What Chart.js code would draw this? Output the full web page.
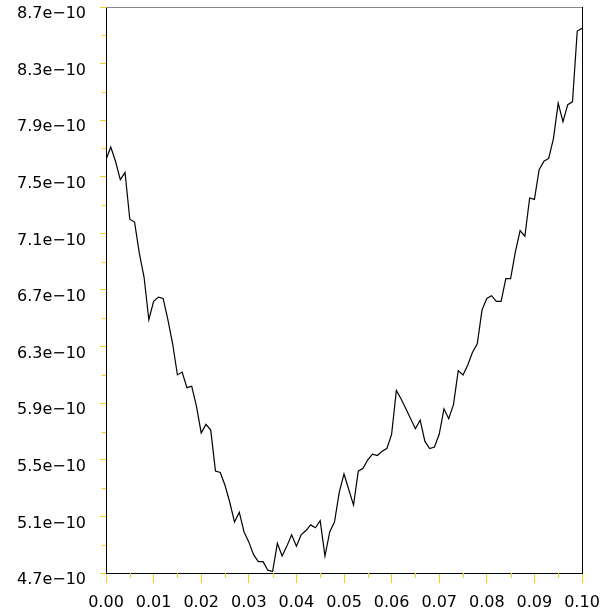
<!DOCTYPE html>
<html>
<head>
<meta charset="utf-8">
<script src="https://cdn.jsdelivr.net/npm/chart.js@4"></script>
<style>
  html, body { margin: 0; padding: 0; background: #fff; }
</style>
</head>
<body>
<canvas id="lineChart" width="603" height="616"></canvas>
<script>
// x positions of the samples
const xValues = [
    0.000, 0.001, 0.002, 0.003, 0.004, 0.005, 0.006, 0.007, 0.008, 0.009,
    0.010, 0.011, 0.012, 0.013, 0.014, 0.015, 0.016, 0.017, 0.018, 0.019,
    0.020, 0.021, 0.022, 0.023, 0.024, 0.025, 0.026, 0.027, 0.028, 0.029,
    0.030, 0.031, 0.032, 0.033, 0.034, 0.035, 0.036, 0.037, 0.038, 0.039,
    0.040, 0.041, 0.042, 0.043, 0.044, 0.045, 0.046, 0.047, 0.048, 0.049,
    0.050, 0.051, 0.052, 0.053, 0.054, 0.055, 0.056, 0.057, 0.058, 0.059,
    0.060, 0.061, 0.062, 0.063, 0.064, 0.065, 0.066, 0.067, 0.068, 0.069,
    0.070, 0.071, 0.072, 0.073, 0.074, 0.075, 0.076, 0.077, 0.078, 0.079,
    0.080, 0.081, 0.082, 0.083, 0.084, 0.085, 0.086, 0.087, 0.088, 0.089,
    0.090, 0.091, 0.092, 0.093, 0.094, 0.095, 0.096, 0.097, 0.098, 0.099,
    0.100
];
// values in units of 1e-10
const yValues = [
    7.62, 7.71, 7.61, 7.48, 7.53, 7.20, 7.18, 6.96, 6.79, 6.49,
    6.62, 6.65, 6.64, 6.49, 6.32, 6.10, 6.12, 6.01, 6.02, 5.88,
    5.69, 5.75, 5.71, 5.42, 5.41, 5.32, 5.20, 5.06, 5.13, 4.99,
    4.92, 4.83, 4.78, 4.78, 4.72, 4.71, 4.91, 4.82, 4.89, 4.97,
    4.89, 4.97, 5.00, 5.04, 5.02, 5.07, 4.82, 4.99, 5.06, 5.27,
    5.40, 5.29, 5.18, 5.42, 5.44, 5.50, 5.54, 5.53, 5.56, 5.58,
    5.68, 5.99, 5.93, 5.86, 5.79, 5.72, 5.78, 5.63, 5.58, 5.59,
    5.68, 5.86, 5.79, 5.89, 6.13, 6.10, 6.17, 6.26, 6.32, 6.56,
    6.64, 6.66, 6.62, 6.62, 6.78, 6.78, 6.97, 7.12, 7.08, 7.35,
    7.34, 7.55, 7.61, 7.63, 7.77, 8.02, 7.89, 8.01, 8.03, 8.53,
    8.55
];
const xTicks = [0.00, 0.01, 0.02, 0.03, 0.04, 0.05, 0.06, 0.07, 0.08, 0.09, 0.10];
const xMinorTicks = [0.005, 0.015, 0.025, 0.035, 0.045, 0.055, 0.065, 0.075, 0.085, 0.095];
const yTicks = [4.7, 5.1, 5.5, 5.9, 6.3, 6.7, 7.1, 7.5, 7.9, 8.3, 8.7];
const yMinorTicks = [4.9, 5.3, 5.7, 6.1, 6.5, 6.9, 7.3, 7.7, 8.1, 8.5];

const tickGold = '#f5cf1a';
const labelFont = { family: 'DejaVu Sans', size: 16 };

// short ticks between the labelled ones, plus the top and right frame lines
const minorTicks = {
    id: 'minorTicks',
    afterDraw(chart) {
        const ctx = chart.ctx;
        const xs = chart.scales.x, ys = chart.scales.y, area = chart.chartArea;
        ctx.save();
        ctx.strokeStyle = tickGold;
        ctx.lineWidth = 1;
        ctx.beginPath();
        xMinorTicks.forEach(v => {
            const px = Math.round(xs.getPixelForValue(v)) + 0.5;
            ctx.moveTo(px, area.bottom);
            ctx.lineTo(px, area.bottom + 5);
        });
        yMinorTicks.forEach(v => {
            const py = Math.round(ys.getPixelForValue(v)) + 0.5;
            ctx.moveTo(area.left - 4, py);
            ctx.lineTo(area.left, py);
        });
        ctx.stroke();

        ctx.strokeStyle = '#000';
        ctx.beginPath();
        ctx.moveTo(Math.round(area.right) + 0.5, area.top);
        ctx.lineTo(Math.round(area.right) + 0.5, area.bottom);
        ctx.stroke();
        ctx.strokeStyle = '#888';
        ctx.beginPath();
        ctx.moveTo(area.left, Math.round(area.top) + 0.5);
        ctx.lineTo(area.right, Math.round(area.top) + 0.5);
        ctx.stroke();
        ctx.restore();
    }
};

const ctx = document.getElementById('lineChart').getContext('2d');
new Chart(ctx, {
    type: 'line',
    data: {
        datasets: [{
            data: xValues.map((x, i) => ({ x: x, y: yValues[i] })),
            borderColor: '#000',
            borderWidth: 1.2,
            pointRadius: 0,
            tension: 0,
            fill: false
        }]
    },
    options: {
        responsive: false,
        animation: false,
        layout: { padding: { top: 7, right: 21, left: 0, bottom: 0 } },
        scales: {
            x: {
                type: 'linear',
                min: 0,
                max: 0.1,
                afterBuildTicks: scale => { scale.ticks = xTicks.map(v => ({ value: v })); },
                afterFit: scale => { scale.height = 43; scale.paddingLeft = 0; scale.paddingRight = 0; },
                grid: { drawOnChartArea: false, tickLength: 10, tickColor: tickGold },
                border: { color: '#000', width: 1 },
                ticks: {
                    autoSkip: false,
                    maxRotation: 0,
                    padding: 10,
                    color: '#000',
                    font: labelFont,
                    callback: v => v.toFixed(2)
                }
            },
            y: {
                min: 4.7,
                max: 8.7,
                afterBuildTicks: scale => { scale.ticks = yTicks.map(v => ({ value: v })); },
                afterFit: scale => { scale.width = 106; scale.paddingTop = 0; scale.paddingBottom = 0; },
                grid: { drawOnChartArea: false, tickLength: 6, tickColor: tickGold },
                border: { color: '#000', width: 1 },
                ticks: {
                    autoSkip: false,
                    padding: 14,
                    labelOffset: 7,
                    color: '#000',
                    font: labelFont,
                    callback: v => v.toFixed(1) + 'e\u221210'
                }
            }
        },
        plugins: {
            legend: { display: false },
            tooltip: { enabled: false }
        }
    },
    plugins: [minorTicks]
});
</script>
</body>
</html>
